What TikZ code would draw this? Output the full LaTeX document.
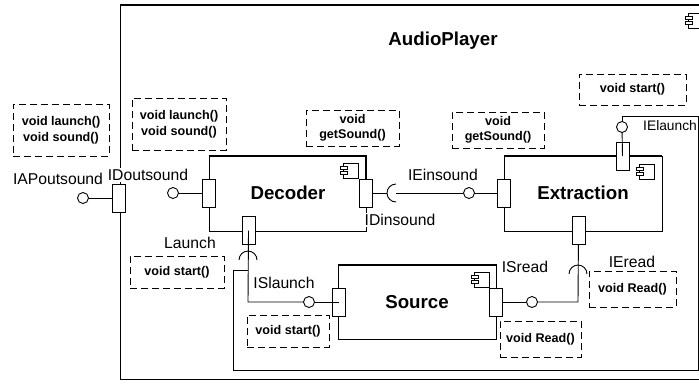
\documentclass[tikz,border=0pt]{standalone}
\usepackage{fontspec}
\setmainfont{Liberation Sans}
\tikzset{
  comp/.style = {rectangle, draw=black, line width=0.9bp, inner sep=0pt},% component box
  port/.style = {rectangle, draw=black, fill=white, line width=0.9bp, inner sep=0pt,
    minimum width=13bp, minimum height=28bp},
  lolly/.style = {circle, draw=black, fill=white, line width=0.9bp, inner sep=0pt,
    minimum size=11bp},% provided interface
  wire/.style = {draw=black, line width=0.9bp},
  heavy/.style = {draw=black, line width=2bp},
  opbox/.style = {rectangle, draw=black, line width=0.9bp, inner sep=0pt, align=center,
    dash pattern=on 7bp off 4bp, font=\fontsize{12.6bp}{15.5bp}\selectfont\bfseries},% operations note
  tag/.style = {inner sep=1pt, font=\fontsize{15.7bp}{18bp}\selectfont},
  title/.style = {inner sep=0pt, font=\fontsize{18.7bp}{22bp}\selectfont\bfseries},
  compicon/.pic = {
    \draw[line width=0.7bp] (0,0) rectangle (15,15);
    \draw[line width=0.7bp, fill=white] (-3,3) rectangle (4,6);
    \draw[line width=0.7bp, fill=white] (-3,8) rectangle (4,11);
  }
}
\begin{document}
\begin{tikzpicture}[x=1bp,y=-1bp]
\useasboundingbox (0,0) rectangle (699,391);
% outer component
\node [comp, minimum width=590bp, minimum height=374bp] (player) at (415,192) {};
\draw [heavy] (player.north west) -- (player.north east);
\draw [wire, line width=1.4bp] (player.south west) -- (player.south east);
\node [title] (playername) at (443,41) {AudioPlayer};
\draw (688,13) pic {compicon};

% inner components
\node [comp, minimum width=157bp, minimum height=75bp] (decoder) at (287.5,193.5) {};
\node [comp, minimum width=158bp, minimum height=75bp] (extraction) at (583,193.5) {};
\node [comp, minimum width=158bp, minimum height=74bp] (source) at (417,302) {};
\draw [heavy] (decoder.north west) -- (decoder.north east) -- (decoder.east);
\draw [heavy] (extraction.north west) -- (extraction.north east);
\draw [heavy, line width=1.4bp] (source.north west) -- (source.north east) -- (source.south east);
\node [title] (decodername) at (288,193) {Decoder};
\node [title] (extractionname) at (583,193) {Extraction};
\node [title] (sourcename) at (417,302) {Source};
\draw (343,163) pic {compicon};
\draw (639,164) pic {compicon};
\draw (474,272) pic {compicon};

% ports
\node [port] (portAP) at (118.5,198) {};
\node [port] (portDL) at (208.5,193) {};
\node [port] (portDR) at (366,193) {};
\node [port] (portDB) at (248.5,230.5) {};
\node [port] (portEL) at (504,193) {};
\node [port] (portET) at (622.5,156) {};
\node [port] (portEB) at (578.5,230.5) {};
\node [port] (portSL) at (338.5,302) {};
\node [port] (portSR) at (496,302) {};

% provided and required interfaces
\node [lolly] (lolAP) at (83,198) {};
\node [lolly] (lolDL) at (173,193) {};
\node [lolly] (lolEL) at (469,193) {};
\node [lolly] (lolET) at (622,127) {};
\node [lolly] (lolSL) at (309,302) {};
\node [lolly] (lolSR) at (532,302) {};
\coordinate (sockDR) at (396,193);
\coordinate (sockDB) at (248,260);
\coordinate (sockEB) at (578,274);
\coordinate (bendSL) at (248,302);
\coordinate (bendSR) at (578,302);
\coordinate (wireNE) at (698,116);
\coordinate (wireSW) at (233,370);
\coordinate (wireEnd) at (248,270);

% connectors
\draw [wire] (lolAP) -- (portAP);
\draw [wire] (lolDL) -- (portDL);
\draw [wire] (portDR) -- ([xshift=-9bp]sockDR);
\draw [wire] (sockDR) -- (lolEL);
\draw [wire] (lolEL) -- (portEL);
\draw [wire] ([yshift=9bp]sockDR) arc [start angle=90, end angle=270, radius=9bp];
\draw [wire] (portDB.center) -- (bendSL) -- (lolSL);
\draw [wire] (lolSL) -- (portSL.center);
\draw [wire] ([xshift=-9bp]sockDB) arc [start angle=180, end angle=0, radius=9bp];
\draw [wire] (portEB) -- (bendSR) -- (lolSR);
\draw [wire] (lolSR) -- (portSR);
\draw [wire] ([xshift=-9bp]sockEB) arc [start angle=180, end angle=0, radius=9bp];
\draw [wire] (lolET) -- (portET.center);
\draw [wire] (lolET) |- (wireNE) |- (wireSW) |- (wireEnd);

% operation notes
\node [opbox, minimum width=96bp, minimum height=52bp] (opAP) at (61,130) {void launch()\\void sound()};
\node [opbox, minimum width=94bp, minimum height=52bp] (opDL) at (179,124) {void launch()\\void sound()};
\node [opbox, minimum width=93bp, minimum height=36bp] (opDR) at (352.5,128) {void\\getSound()};
\node [opbox, minimum width=92bp, minimum height=36bp] (opEL) at (498,130) {void\\getSound()};
\node [opbox, minimum width=107bp, minimum height=31bp] (opET) at (632.5,89.5) {void start()};
\node [opbox, minimum width=94bp, minimum height=32bp] (opDB) at (177,272) {void start()};
\node [opbox, minimum width=82bp, minimum height=32bp] (opSL) at (288,331) {void start()};
\node [opbox, minimum width=81bp, minimum height=36bp] (opSR) at (540.5,339) {void Read()};
\node [opbox, minimum width=87bp, minimum height=36bp] (opEB) at (632.5,289) {void Read()};

% interface names
\node [tag] (tagAP) at (58,179) {IAPoutsound};
\node [tag, fill=white] (tagDL) at (148,175) {IDoutsound};
\node [tag] (tagEL) at (443,175) {IEinsound};
\node [tag, fill=white] (tagDR) at (400,220) {IDinsound};
\node [tag, anchor=west, inner sep=0pt, font=\fontsize{13.8bp}{16bp}\selectfont] (tagET) at (643,126) {IElaunch};
\node [tag] (tagDB) at (190,243) {Launch};
\node [tag] (tagSL) at (284,283) {ISlaunch};
\node [tag] (tagSR) at (525,267) {ISread};
\node [tag] (tagEB) at (632,262) {IEread};
\end{tikzpicture}
\end{document}
